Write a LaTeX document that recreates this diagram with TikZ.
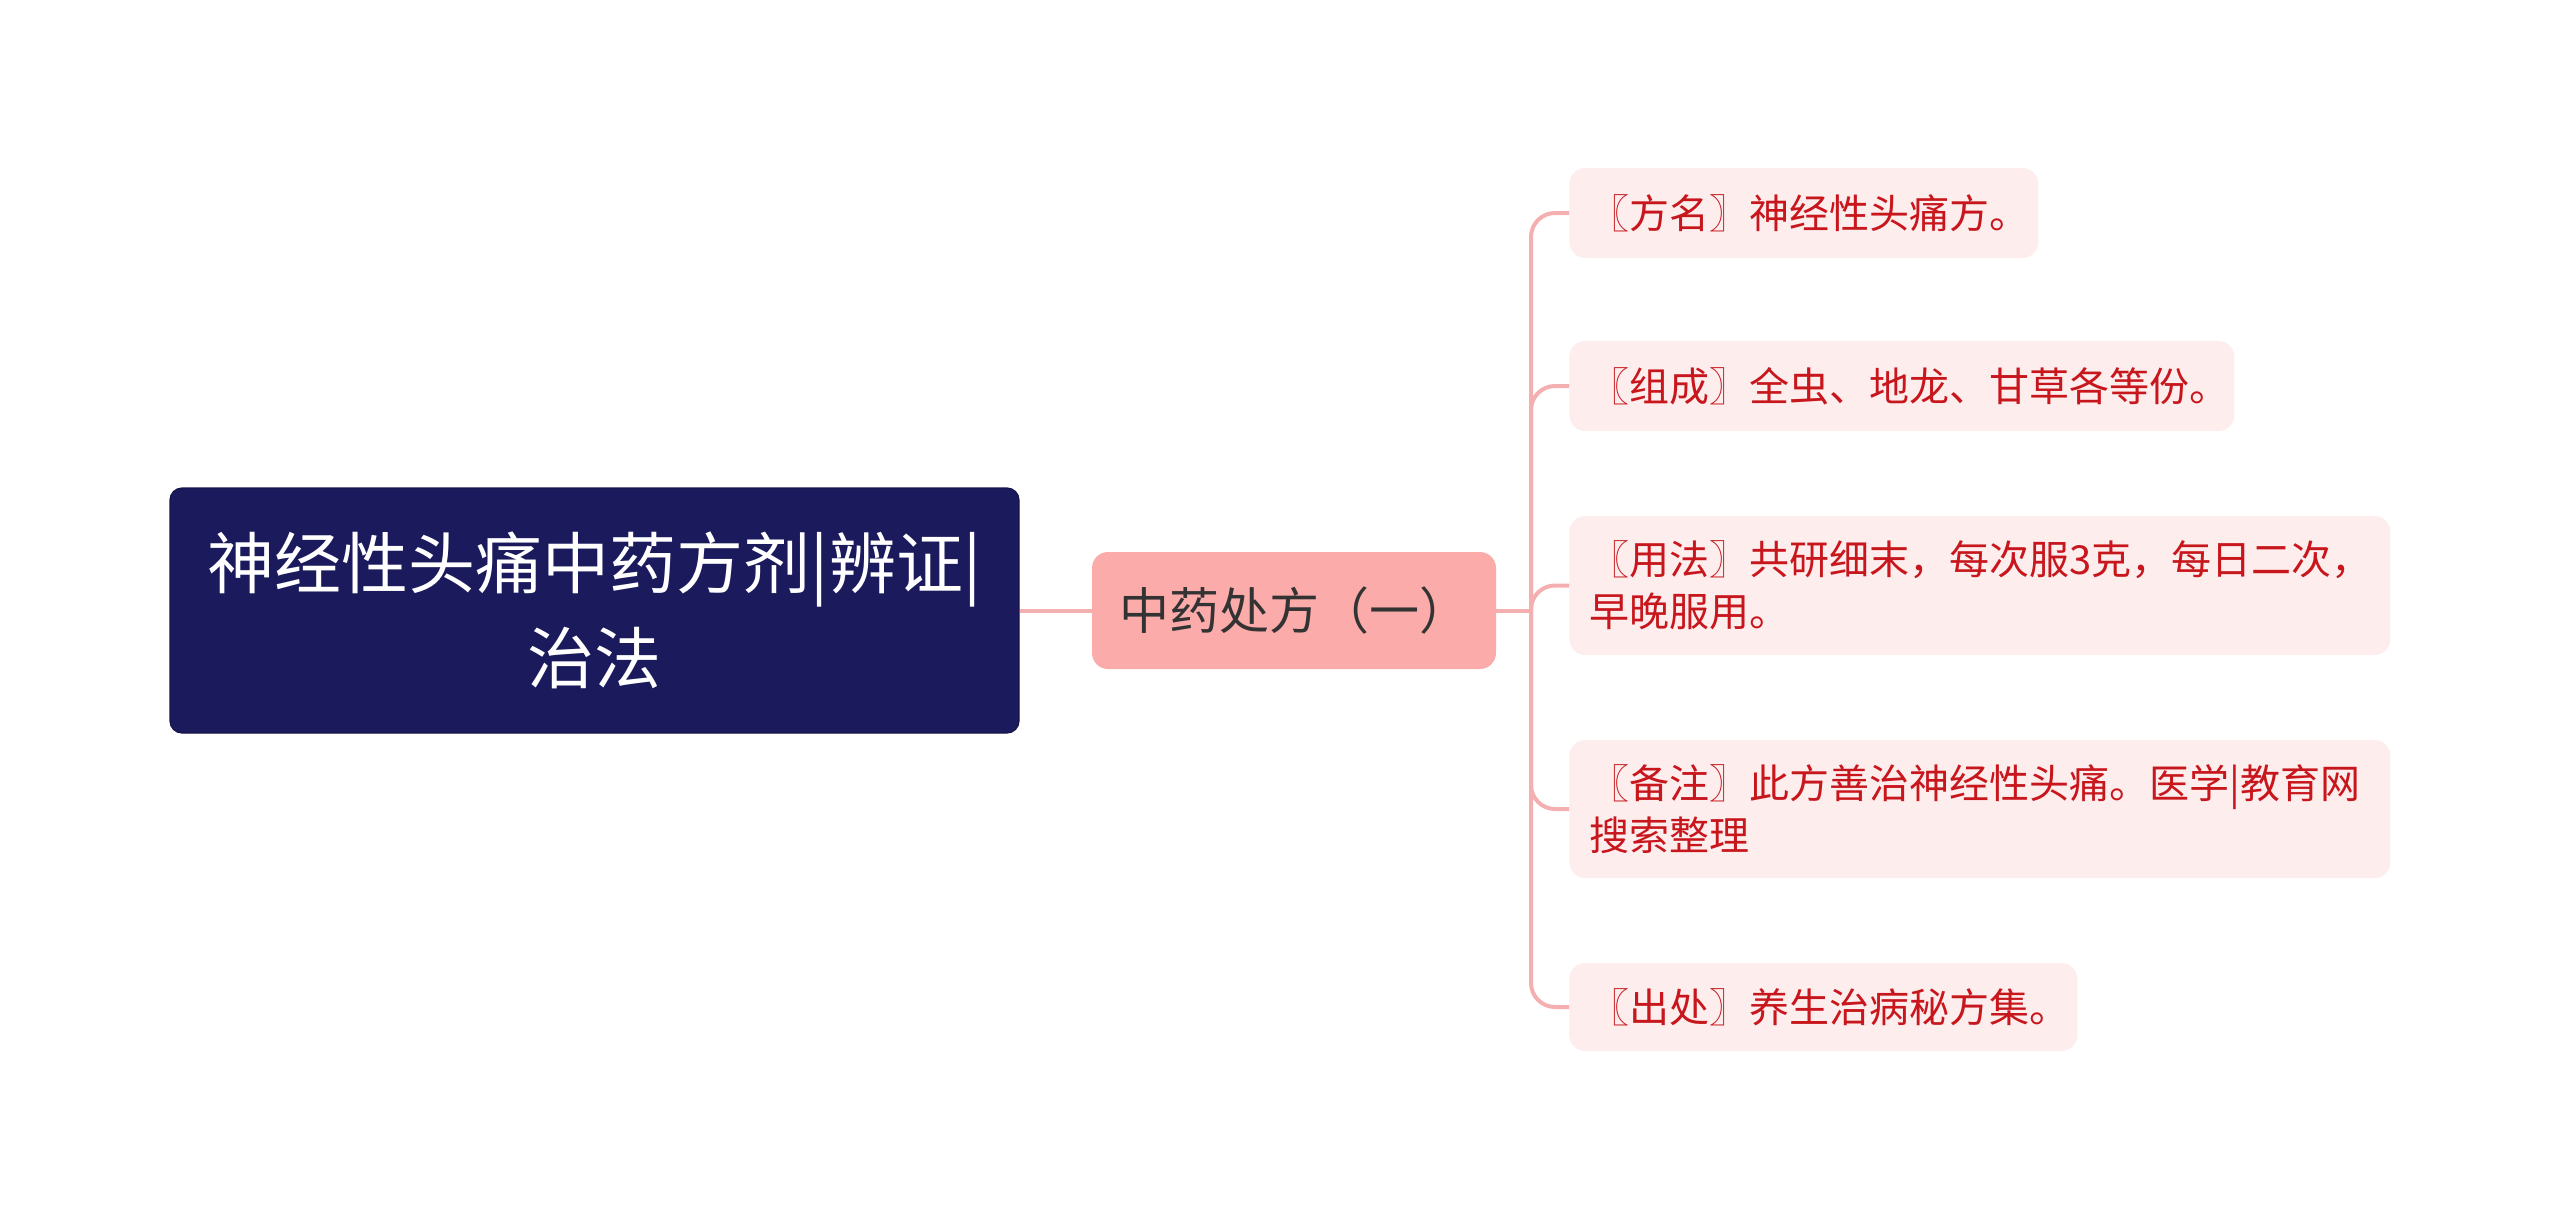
\documentclass[tikz,border=0pt]{standalone}
\usepackage{fontspec}
\setmainfont{Noto Sans CJK SC}
\definecolor{rootfill}{HTML}{1B1A5C}
\definecolor{midfill}{HTML}{FCABAB}
\definecolor{leaffill}{HTML}{FDEDED}
\definecolor{leaftext}{HTML}{C8161D}
\definecolor{midtext}{HTML}{333333}
\definecolor{conn}{HTML}{F4B0B0}
\begin{document}
\begin{tikzpicture}[x=0.5pt,y=-0.5pt,
  rootbox/.style={fill=rootfill, draw=rootfill!80!black, line width=0.6pt, rounded corners=6pt,
    text=white, align=center, inner sep=0pt,
    minimum width=424.5pt, minimum height=122.5pt,
    font=\fontsize{33.5}{47.5}\selectfont},
  midbox/.style={fill=midfill, rounded corners=8pt, text=midtext, align=center, inner sep=0pt,
    minimum width=202pt, minimum height=58.5pt,
    font=\fontsize{25}{30}\selectfont},
  leafbox/.style={fill=leaffill, rounded corners=8pt, text=leaftext, align=left,
    inner xsep=10pt, inner ysep=0pt, anchor=west,
    font=\fontsize{20}{26}\selectfont},
  connline/.style={draw=conn, line width=2pt},
  busline/.style={draw=conn, line width=2pt, rounded corners=12pt}
]
\useasboundingbox (0,0) rectangle (2560,1221);
\node[rootbox] (root) at (594.5,610.5) {神经性头痛中药方剂|辨证|\\治法};
\node[midbox] (mid) at (1294,610.5) {中药处方（一）};
\node[leafbox, minimum width=234.5pt, minimum height=45pt, text width=214.5pt] (l1) at (1569,213) {〖方名〗神经性头痛方。};
\node[leafbox, minimum width=332.5pt, minimum height=45pt, text width=312.5pt] (l2) at (1569,386) {〖组成〗全虫、地龙、甘草各等份。};
\node[leafbox, minimum width=410.5pt, minimum height=69.5pt, text width=390.5pt] (l3) at (1569,585.5) {〖用法〗共研细末，每次服3克，每日二次，\\早晚服用。};
\node[leafbox, minimum width=410.5pt, minimum height=69pt, text width=390.5pt] (l4) at (1569,809) {〖备注〗此方善治神经性头痛。医学|教育网\\搜索整理};
\node[leafbox, minimum width=254pt, minimum height=44pt, text width=234pt] (l5) at (1569,1007) {〖出处〗养生治病秘方集。};
\coordinate (bus) at (1531,610.5);
\draw[connline] (root.east) -- (mid.west);
\draw[connline] (mid.east) -- (bus);
\foreach \n in {l1,l2,l3,l4,l5}{
  \draw[busline] (bus) |- (\n.west);
}
\end{tikzpicture}
\end{document}
